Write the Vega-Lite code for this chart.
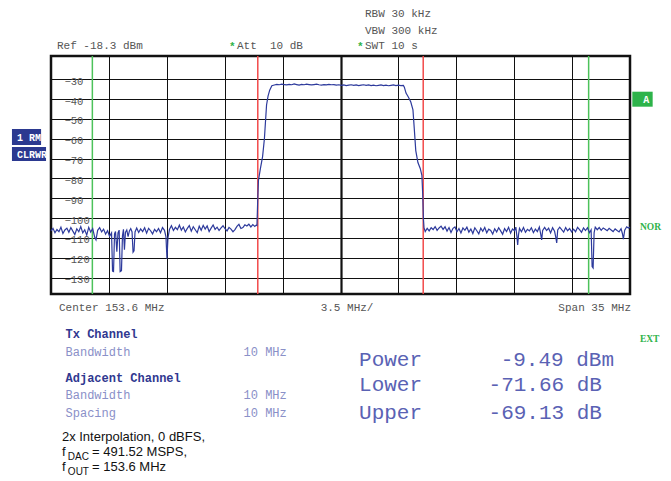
{
  "$schema": "https://vega.github.io/schema/vega-lite/v6.json",
  "width": 579,
  "height": 238,
  "autosize": {"type": "none"},
  "padding": {"left": 51, "top": 56, "right": 41, "bottom": 187},
  "background": "white",
  "config": {"view": {"stroke": "#111111", "strokeWidth": 2.5}, "axis": {"labelOverlap": false}},
  "datasets": {
    "trace": [
      {"freq":136.10,"dBm":-106.5},{"freq":136.22,"dBm":-105.2},{"freq":136.34,"dBm":-107.4},{"freq":136.46,"dBm":-105.8},{"freq":136.58,"dBm":-106.9},{"freq":136.70,"dBm":-104.6},{"freq":136.82,"dBm":-107.8},{"freq":136.94,"dBm":-106.0},{"freq":137.06,"dBm":-105.1},{"freq":137.18,"dBm":-107.2},{"freq":137.30,"dBm":-104.8},{"freq":137.42,"dBm":-106.6},{"freq":137.54,"dBm":-108.3},{"freq":137.66,"dBm":-105.4},{"freq":137.78,"dBm":-106.9},{"freq":137.90,"dBm":-104.3},{"freq":138.02,"dBm":-107.5},{"freq":138.14,"dBm":-105.9},{"freq":138.26,"dBm":-108.6},{"freq":138.38,"dBm":-104.7},{"freq":138.50,"dBm":-107.1},{"freq":138.62,"dBm":-105.3},{"freq":138.74,"dBm":-109.6},{"freq":138.82,"dBm":-111.0},{"freq":138.92,"dBm":-106.2},{"freq":139.04,"dBm":-104.9},{"freq":139.16,"dBm":-107.0},{"freq":139.28,"dBm":-105.6},{"freq":139.40,"dBm":-108.1},{"freq":139.52,"dBm":-106.4},{"freq":139.64,"dBm":-109.2},{"freq":139.76,"dBm":-107.5},{"freq":139.82,"dBm":-126.8},{"freq":139.88,"dBm":-127.0},{"freq":139.94,"dBm":-108.0},{"freq":140.00,"dBm":-106.8},{"freq":140.08,"dBm":-117.0},{"freq":140.15,"dBm":-107.5},{"freq":140.22,"dBm":-106.1},{"freq":140.28,"dBm":-127.0},{"freq":140.36,"dBm":-126.5},{"freq":140.42,"dBm":-109.0},{"freq":140.48,"dBm":-105.7},{"freq":140.54,"dBm":-116.0},{"freq":140.60,"dBm":-107.2},{"freq":140.68,"dBm":-106.0},{"freq":140.76,"dBm":-109.4},{"freq":140.84,"dBm":-106.5},{"freq":140.92,"dBm":-105.3},{"freq":141.00,"dBm":-107.0},{"freq":141.06,"dBm":-117.2},{"freq":141.12,"dBm":-116.5},{"freq":141.18,"dBm":-107.0},{"freq":141.28,"dBm":-105.0},{"freq":141.40,"dBm":-107.3},{"freq":141.52,"dBm":-105.5},{"freq":141.64,"dBm":-106.8},{"freq":141.76,"dBm":-104.9},{"freq":141.88,"dBm":-107.6},{"freq":142.00,"dBm":-105.2},{"freq":142.12,"dBm":-106.4},{"freq":142.24,"dBm":-108.0},{"freq":142.36,"dBm":-105.7},{"freq":142.48,"dBm":-106.9},{"freq":142.60,"dBm":-105.3},{"freq":142.72,"dBm":-107.4},{"freq":142.84,"dBm":-104.8},{"freq":142.96,"dBm":-106.2},{"freq":143.05,"dBm":-109.5},{"freq":143.11,"dBm":-120.5},{"freq":143.17,"dBm":-110.0},{"freq":143.26,"dBm":-105.8},{"freq":143.38,"dBm":-103.9},{"freq":143.50,"dBm":-106.3},{"freq":143.62,"dBm":-104.7},{"freq":143.74,"dBm":-105.9},{"freq":143.86,"dBm":-103.6},{"freq":143.98,"dBm":-106.1},{"freq":144.10,"dBm":-104.5},{"freq":144.22,"dBm":-107.0},{"freq":144.34,"dBm":-105.2},{"freq":144.46,"dBm":-103.8},{"freq":144.58,"dBm":-106.6},{"freq":144.70,"dBm":-104.4},{"freq":144.82,"dBm":-105.9},{"freq":144.94,"dBm":-107.4},{"freq":145.06,"dBm":-104.1},{"freq":145.18,"dBm":-106.2},{"freq":145.30,"dBm":-103.7},{"freq":145.42,"dBm":-105.6},{"freq":145.54,"dBm":-104.0},{"freq":145.66,"dBm":-106.8},{"freq":145.78,"dBm":-105.1},{"freq":145.90,"dBm":-103.5},{"freq":146.02,"dBm":-105.7},{"freq":146.14,"dBm":-104.6},{"freq":146.26,"dBm":-106.3},{"freq":146.38,"dBm":-105.0},{"freq":146.50,"dBm":-103.9},{"freq":146.62,"dBm":-105.4},{"freq":146.74,"dBm":-106.5},{"freq":146.86,"dBm":-104.7},{"freq":146.98,"dBm":-105.6},{"freq":147.10,"dBm":-106.9},{"freq":147.22,"dBm":-105.8},{"freq":147.34,"dBm":-104.2},{"freq":147.46,"dBm":-103.2},{"freq":147.58,"dBm":-105.3},{"freq":147.70,"dBm":-104.8},{"freq":147.82,"dBm":-103.4},{"freq":147.94,"dBm":-104.0},{"freq":148.06,"dBm":-103.1},{"freq":148.18,"dBm":-104.5},{"freq":148.30,"dBm":-103.3},{"freq":148.42,"dBm":-104.2},{"freq":148.50,"dBm":-103.6},{"freq":148.55,"dBm":-103.8},
      {"freq":148.60,"dBm":-90.0},{"freq":148.64,"dBm":-81.0},{"freq":148.76,"dBm":-75.0},{"freq":148.89,"dBm":-69.0},{"freq":149.00,"dBm":-60.0},{"freq":149.13,"dBm":-43.0},{"freq":149.22,"dBm":-38.5},{"freq":149.32,"dBm":-35.5},{"freq":149.45,"dBm":-33.3},
      {"freq":149.60,"dBm":-32.9},{"freq":149.75,"dBm":-32.6},{"freq":149.90,"dBm":-32.8},{"freq":150.05,"dBm":-32.5},{"freq":150.20,"dBm":-32.7},{"freq":150.35,"dBm":-32.9},{"freq":150.50,"dBm":-32.6},{"freq":150.65,"dBm":-32.8},{"freq":150.80,"dBm":-32.4},{"freq":150.95,"dBm":-32.7},{"freq":151.10,"dBm":-33.0},{"freq":151.25,"dBm":-32.6},{"freq":151.40,"dBm":-32.8},{"freq":151.55,"dBm":-32.5},{"freq":151.70,"dBm":-32.7},{"freq":151.85,"dBm":-32.9},{"freq":152.00,"dBm":-32.7},{"freq":152.15,"dBm":-32.5},{"freq":152.30,"dBm":-32.8},{"freq":152.45,"dBm":-33.0},{"freq":152.60,"dBm":-32.7},{"freq":152.75,"dBm":-32.9},{"freq":152.90,"dBm":-32.6},{"freq":153.05,"dBm":-32.8},{"freq":153.20,"dBm":-32.7},{"freq":153.35,"dBm":-33.0},{"freq":153.50,"dBm":-32.8},{"freq":153.65,"dBm":-33.1},{"freq":153.80,"dBm":-32.9},{"freq":153.95,"dBm":-33.2},{"freq":154.10,"dBm":-33.0},{"freq":154.25,"dBm":-32.8},{"freq":154.40,"dBm":-33.1},{"freq":154.55,"dBm":-32.9},{"freq":154.70,"dBm":-33.2},{"freq":154.85,"dBm":-33.0},{"freq":155.00,"dBm":-32.8},{"freq":155.15,"dBm":-33.1},{"freq":155.30,"dBm":-32.9},{"freq":155.45,"dBm":-33.2},{"freq":155.60,"dBm":-33.0},{"freq":155.75,"dBm":-33.3},{"freq":155.90,"dBm":-33.1},{"freq":156.05,"dBm":-32.9},{"freq":156.20,"dBm":-33.2},{"freq":156.35,"dBm":-33.0},{"freq":156.50,"dBm":-33.3},{"freq":156.65,"dBm":-33.1},{"freq":156.80,"dBm":-32.9},{"freq":156.95,"dBm":-33.2},{"freq":157.10,"dBm":-33.0},{"freq":157.25,"dBm":-33.2},{"freq":157.40,"dBm":-33.1},
      {"freq":157.46,"dBm":-34.0},{"freq":157.56,"dBm":-37.0},{"freq":157.70,"dBm":-39.0},{"freq":157.85,"dBm":-41.5},{"freq":157.98,"dBm":-45.5},{"freq":158.06,"dBm":-55.0},{"freq":158.15,"dBm":-66.0},{"freq":158.28,"dBm":-72.0},{"freq":158.42,"dBm":-75.0},{"freq":158.52,"dBm":-78.5},{"freq":158.57,"dBm":-88.0},{"freq":158.61,"dBm":-100.0},
      {"freq":158.65,"dBm":-105.0},{"freq":158.72,"dBm":-106.8},{"freq":158.84,"dBm":-105.2},{"freq":158.96,"dBm":-106.5},{"freq":159.08,"dBm":-104.9},{"freq":159.20,"dBm":-105.8},{"freq":159.32,"dBm":-104.3},{"freq":159.44,"dBm":-106.2},{"freq":159.56,"dBm":-105.0},{"freq":159.68,"dBm":-104.1},{"freq":159.80,"dBm":-105.7},{"freq":159.92,"dBm":-104.4},{"freq":160.04,"dBm":-106.6},{"freq":160.16,"dBm":-104.8},{"freq":160.28,"dBm":-107.3},{"freq":160.40,"dBm":-105.2},{"freq":160.52,"dBm":-104.5},{"freq":160.64,"dBm":-106.9},{"freq":160.76,"dBm":-105.3},{"freq":160.88,"dBm":-107.5},{"freq":161.00,"dBm":-105.0},{"freq":161.12,"dBm":-106.2},{"freq":161.24,"dBm":-104.6},{"freq":161.36,"dBm":-107.1},{"freq":161.48,"dBm":-105.5},{"freq":161.60,"dBm":-107.8},{"freq":161.72,"dBm":-104.9},{"freq":161.84,"dBm":-106.4},{"freq":161.96,"dBm":-108.0},{"freq":162.08,"dBm":-105.1},{"freq":162.20,"dBm":-106.7},{"freq":162.32,"dBm":-104.8},{"freq":162.44,"dBm":-107.4},{"freq":162.56,"dBm":-105.6},{"freq":162.68,"dBm":-106.3},{"freq":162.80,"dBm":-108.1},{"freq":162.92,"dBm":-105.4},{"freq":163.04,"dBm":-107.0},{"freq":163.16,"dBm":-104.9},{"freq":163.28,"dBm":-106.5},{"freq":163.40,"dBm":-108.2},{"freq":163.52,"dBm":-105.3},{"freq":163.64,"dBm":-106.8},{"freq":163.76,"dBm":-104.7},{"freq":163.88,"dBm":-107.6},{"freq":164.00,"dBm":-105.5},{"freq":164.12,"dBm":-106.4},{"freq":164.20,"dBm":-104.6},{"freq":164.26,"dBm":-109.0},{"freq":164.31,"dBm":-113.6},{"freq":164.36,"dBm":-108.5},{"freq":164.42,"dBm":-105.2},{"freq":164.54,"dBm":-106.9},{"freq":164.66,"dBm":-104.8},{"freq":164.78,"dBm":-107.2},{"freq":164.90,"dBm":-105.7},{"freq":165.02,"dBm":-106.5},{"freq":165.14,"dBm":-104.9},{"freq":165.26,"dBm":-107.4},{"freq":165.38,"dBm":-105.6},{"freq":165.50,"dBm":-106.8},{"freq":165.62,"dBm":-104.5},{"freq":165.70,"dBm":-108.0},{"freq":165.76,"dBm":-111.0},{"freq":165.82,"dBm":-106.2},{"freq":165.94,"dBm":-104.7},{"freq":166.06,"dBm":-106.3},{"freq":166.18,"dBm":-105.1},{"freq":166.30,"dBm":-107.5},{"freq":166.42,"dBm":-104.9},{"freq":166.54,"dBm":-106.7},{"freq":166.61,"dBm":-109.5},{"freq":166.67,"dBm":-112.5},{"freq":166.73,"dBm":-106.0},{"freq":166.85,"dBm":-104.6},{"freq":166.97,"dBm":-105.9},{"freq":167.09,"dBm":-107.1},{"freq":167.21,"dBm":-104.8},{"freq":167.33,"dBm":-106.4},{"freq":167.45,"dBm":-105.3},{"freq":167.57,"dBm":-107.0},{"freq":167.69,"dBm":-105.6},{"freq":167.81,"dBm":-106.9},{"freq":167.93,"dBm":-104.7},{"freq":168.05,"dBm":-105.8},{"freq":168.17,"dBm":-107.2},{"freq":168.29,"dBm":-105.0},{"freq":168.41,"dBm":-106.3},{"freq":168.53,"dBm":-104.9},{"freq":168.65,"dBm":-107.4},{"freq":168.75,"dBm":-106.0},{"freq":168.81,"dBm":-124.5},{"freq":168.87,"dBm":-125.2},{"freq":168.93,"dBm":-107.5},{"freq":169.00,"dBm":-104.6},{"freq":169.12,"dBm":-105.9},{"freq":169.24,"dBm":-104.8},{"freq":169.36,"dBm":-106.2},{"freq":169.48,"dBm":-105.0},{"freq":169.60,"dBm":-105.7},{"freq":169.72,"dBm":-106.4},{"freq":169.84,"dBm":-105.2},{"freq":169.96,"dBm":-106.0},{"freq":170.08,"dBm":-106.8},{"freq":170.20,"dBm":-105.5},{"freq":170.32,"dBm":-106.3},{"freq":170.44,"dBm":-107.0},{"freq":170.56,"dBm":-105.4},{"freq":170.64,"dBm":-107.8},{"freq":170.70,"dBm":-110.6},{"freq":170.78,"dBm":-106.1},{"freq":170.90,"dBm":-104.4},{"freq":171.00,"dBm":-105.0},{"freq":171.10,"dBm":-104.6}
    ],
    "markers": [
      {"freq":148.6,"channel":"Tx"},{"freq":158.6,"channel":"Tx"},
      {"freq":138.6,"channel":"Adjacent"},{"freq":168.6,"channel":"Adjacent"}
    ],
    "boxes": [
      {"kind":"trace","freq":133.74,"freq2":135.50,"dBm":-55.11,"dBm2":-63.17},
      {"kind":"trace","freq":133.74,"freq2":135.80,"dBm":-64.18,"dBm2":-71.24},
      {"kind":"status","freq":171.24,"freq2":172.47,"dBm":-36.30,"dBm2":-43.86}
    ],
    "notes": [
      {"kind":"hdr","text":"RBW 30 kHz","freq":155.08,"dBm":1.36},
      {"kind":"hdr","text":"VBW 300 kHz","freq":155.08,"dBm":-7.21},
      {"kind":"hdr","text":"Ref -18.3 dBm","freq":136.46,"dBm":-14.77},
      {"kind":"hdr","text":"Att\u00a0\u00a010 dB","freq":147.34,"dBm":-14.77},
      {"kind":"hdr","text":"SWT 10 s","freq":155.08,"dBm":-14.77},
      {"kind":"hdr","text":"Center 153.6 MHz","freq":136.58,"dBm":-146.87},
      {"kind":"hdr","text":"3.5 MHz/","freq":152.40,"dBm":-146.87},
      {"kind":"hdr","text":"Span 35 MHz","freq":166.77,"dBm":-146.87},
      {"kind":"star","text":"*","freq":146.86,"dBm":-15.2},
      {"kind":"star","text":"*","freq":154.60,"dBm":-15.2},
      {"kind":"title","text":"Tx Channel","freq":136.98,"dBm":-160.49},
      {"kind":"title","text":"Adjacent Channel","freq":136.98,"dBm":-182.42},
      {"kind":"param","text":"Bandwidth","freq":136.98,"dBm":-169.31},
      {"kind":"param","text":"10 MHz","freq":147.74,"dBm":-169.31},
      {"kind":"param","text":"Bandwidth","freq":136.98,"dBm":-191.24},
      {"kind":"param","text":"10 MHz","freq":147.74,"dBm":-191.24},
      {"kind":"param","text":"Spacing","freq":136.98,"dBm":-200.07},
      {"kind":"param","text":"10 MHz","freq":147.74,"dBm":-200.07},
      {"kind":"result","text":"Power","freq":154.72,"dBm":-174.60},
      {"kind":"result","text":"-9.49 dBm","freq":163.28,"dBm":-174.60},
      {"kind":"result","text":"Lower","freq":154.72,"dBm":-187.21},
      {"kind":"result","text":"-71.66 dB","freq":162.55,"dBm":-187.21},
      {"kind":"result","text":"Upper","freq":154.72,"dBm":-201.33},
      {"kind":"result","text":"-69.13 dB","freq":162.55,"dBm":-201.33},
      {"kind":"note","text":"2x Interpolation, 0 dBFS,","freq":136.76,"dBm":-212.42},
      {"kind":"note","text":"f","freq":136.76,"dBm":-219.98},
      {"kind":"note","text":"= 491.52 MSPS,","freq":138.58,"dBm":-219.98},
      {"kind":"note","text":"f","freq":136.76,"dBm":-227.55},
      {"kind":"note","text":"= 153.6 MHz","freq":138.58,"dBm":-227.55},
      {"kind":"sub","text":"DAC","freq":137.12,"dBm":-222.00},
      {"kind":"sub","text":"OUT","freq":137.12,"dBm":-229.56},
      {"kind":"status","text":"NOR","freq":171.70,"dBm":-106.03},
      {"kind":"status","text":"EXT","freq":171.70,"dBm":-162.50},
      {"kind":"boxlabel","text":"1 RM","freq":134.04,"dBm":-61.16},
      {"kind":"boxlabel","text":"CLRWR","freq":134.04,"dBm":-69.73},
      {"kind":"boxlabel","text":"A","freq":171.90,"dBm":-42.0}
    ]
  },
  "encoding": {
    "x": {"field": "freq", "type": "quantitative", "scale": {"domain": [136.1, 171.1], "nice": false, "zero": false},
      "axis": {"values": [139.6,143.1,146.6,150.1,153.6,157.1,160.6,164.1,167.6], "grid": true, "gridColor": "#111111",
        "gridWidth": {"condition": {"test": "datum.value == 153.6", "value": 2.2}, "value": 1},
        "labels": false, "ticks": false, "domain": false, "title": null}},
    "y": {"field": "dBm", "type": "quantitative", "scale": {"domain": [-138.3, -18.3], "nice": false, "zero": false},
      "axis": {"values": [-30,-40,-50,-60,-70,-80,-90,-100,-110,-120,-130], "grid": true, "gridColor": "#111111", "gridWidth": 1,
        "ticks": false, "tickSize": 0, "domain": false, "title": null, "labelAlign": "left", "labelPadding": -13,
        "labelOverlap": false, "labelFlush": false, "labelBound": false,
        "labelBaseline": "middle", "labelOffset": 2, "labelFont": "Liberation Mono", "labelFontSize": 10.5, "labelColor": "#555555"}}
  },
  "layer": [
    {
      "data": {"name": "markers"},
      "mark": {"type": "rule", "strokeWidth": 1.5},
      "encoding": {
        "y": null,
        "color": {"field": "channel", "type": "nominal", "scale": {"domain": ["Tx", "Adjacent"], "range": ["#f24a4a", "#4cc25a"]}, "legend": null}
      }
    },
    {
      "data": {"name": "trace"},
      "mark": {"type": "line", "color": "#2d3a9c", "strokeWidth": 1.2},
      "encoding": {}
    },
    {
      "data": {"name": "boxes"},
      "mark": {"type": "rect", "stroke": null},
      "encoding": {
        "x2": {"field": "freq2"},
        "y2": {"field": "dBm2"},
        "fill": {"field": "kind", "type": "nominal", "scale": {"domain": ["trace", "status"], "range": ["#2b3990", "#2db34a"]}, "legend": null}
      }
    },
    {
      "data": {"name": "notes"},
      "transform": [{"filter": "datum.kind == 'hdr'"}],
      "mark": {"type": "text", "align": "left", "baseline": "alphabetic", "font": "Liberation Mono", "fontSize": 11, "color": "#555555"},
      "encoding": {"text": {"field": "text"}}
    },
    {
      "data": {"name": "notes"},
      "transform": [{"filter": "datum.kind == 'star'"}],
      "mark": {"type": "text", "align": "left", "baseline": "alphabetic", "font": "Liberation Mono", "fontSize": 11, "fontWeight": "bold", "color": "#2fb34a"},
      "encoding": {"text": {"field": "text"}}
    },
    {
      "data": {"name": "notes"},
      "transform": [{"filter": "datum.kind == 'title'"}],
      "mark": {"type": "text", "align": "left", "baseline": "alphabetic", "font": "Liberation Mono", "fontSize": 12, "fontWeight": "bold", "color": "#303890"},
      "encoding": {"text": {"field": "text"}}
    },
    {
      "data": {"name": "notes"},
      "transform": [{"filter": "datum.kind == 'param'"}],
      "mark": {"type": "text", "align": "left", "baseline": "alphabetic", "font": "Liberation Mono", "fontSize": 12, "color": "#8a90c8"},
      "encoding": {"text": {"field": "text"}}
    },
    {
      "data": {"name": "notes"},
      "transform": [{"filter": "datum.kind == 'result'"}],
      "mark": {"type": "text", "align": "left", "baseline": "alphabetic", "font": "Liberation Mono", "fontSize": 21, "color": "#5a62b4"},
      "encoding": {"text": {"field": "text"}}
    },
    {
      "data": {"name": "notes"},
      "transform": [{"filter": "datum.kind == 'note'"}],
      "mark": {"type": "text", "align": "left", "baseline": "alphabetic", "font": "Liberation Sans", "fontSize": 13, "color": "#111111"},
      "encoding": {"text": {"field": "text"}}
    },
    {
      "data": {"name": "notes"},
      "transform": [{"filter": "datum.kind == 'sub'"}],
      "mark": {"type": "text", "align": "left", "baseline": "alphabetic", "font": "Liberation Sans", "fontSize": 10, "color": "#111111"},
      "encoding": {"text": {"field": "text"}}
    },
    {
      "data": {"name": "notes"},
      "transform": [{"filter": "datum.kind == 'status'"}],
      "mark": {"type": "text", "align": "left", "baseline": "alphabetic", "font": "Liberation Serif", "fontSize": 9.5, "fontWeight": "bold", "color": "#2fb34a"},
      "encoding": {"text": {"field": "text"}}
    },
    {
      "data": {"name": "notes"},
      "transform": [{"filter": "datum.kind == 'boxlabel'"}],
      "mark": {"type": "text", "align": "left", "baseline": "alphabetic", "font": "Liberation Mono", "fontSize": 10, "fontWeight": "bold", "color": "#ffffff"},
      "encoding": {"text": {"field": "text"}}
    }
  ]
}
